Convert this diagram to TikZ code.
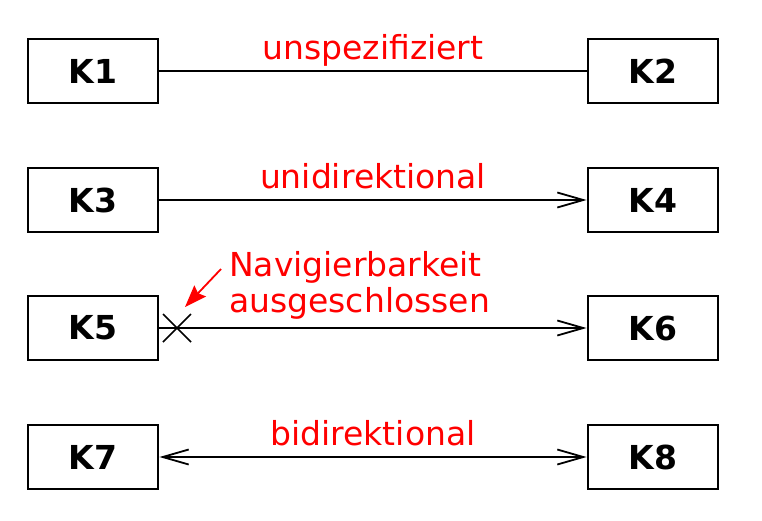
\documentclass[tikz,border=0pt]{standalone}
\usepackage{fontspec}
\setmainfont{DejaVu Sans}
\usetikzlibrary{arrows.meta}
\begin{document}
\begin{tikzpicture}[x=1pt,y=-1pt,
  klass/.style={draw,line width=2.9pt,minimum width=130pt,minimum height=64pt,inner sep=0pt,
    font=\fontsize{33}{36}\selectfont\bfseries},
  lbl/.style={text=red,inner sep=0pt,font=\fontsize{33}{36}\selectfont},
  conn/.style={line width=2.6pt},
  barb/.tip={Straight Barb[length=26pt,width=15pt,line width=1.8pt]}
]
\useasboundingbox (0,0) rectangle (762,520);
% boxes
\node[klass] (k1) at (93,71) {K1};
\node[klass] (k2) at (653,71) {K2};
\node[klass] (k3) at (93,200) {K3};
\node[klass] (k4) at (653,200) {K4};
\node[klass] (k5) at (93,328) {K5};
\node[klass] (k6) at (653,328) {K6};
\node[klass] (k7) at (93,457) {K7};
\node[klass] (k8) at (653,457) {K8};
% connectors
\draw[conn] (k1) -- (k2);
\draw[conn,-barb] (k3) -- (k4);
\draw[conn,-barb] (k5) -- (k6);
\draw[conn,barb-barb] (k7) -- (k8);
% X mark
\coordinate (x) at (177,328);
\draw[line width=1.6pt] ([shift={(-14,-14)}]x) -- ([shift={(14,14)}]x)
  ([shift={(-14,14)}]x) -- ([shift={(14,-14)}]x);
% labels
\node[lbl,anchor=base] (l1) at (373,59) {unspezifiziert};
\node[lbl,anchor=base] (l2) at (373,188) {unidirektional};
\node[lbl,anchor=base west] (l3) at (229,276) {Navigierbarkeit};
\node[lbl,anchor=base west] (l3b) at (229,312) {ausgeschlossen};
\node[lbl,anchor=base] (l4) at (373,445) {bidirektional};
% red pointer
\coordinate (ps) at (221,269);
\coordinate (pe) at (185,307);
\draw[red,line width=1.8pt,-{Stealth[length=22pt,width=16pt,inset=3pt]}] (ps) -- (pe);
\end{tikzpicture}
\end{document}
